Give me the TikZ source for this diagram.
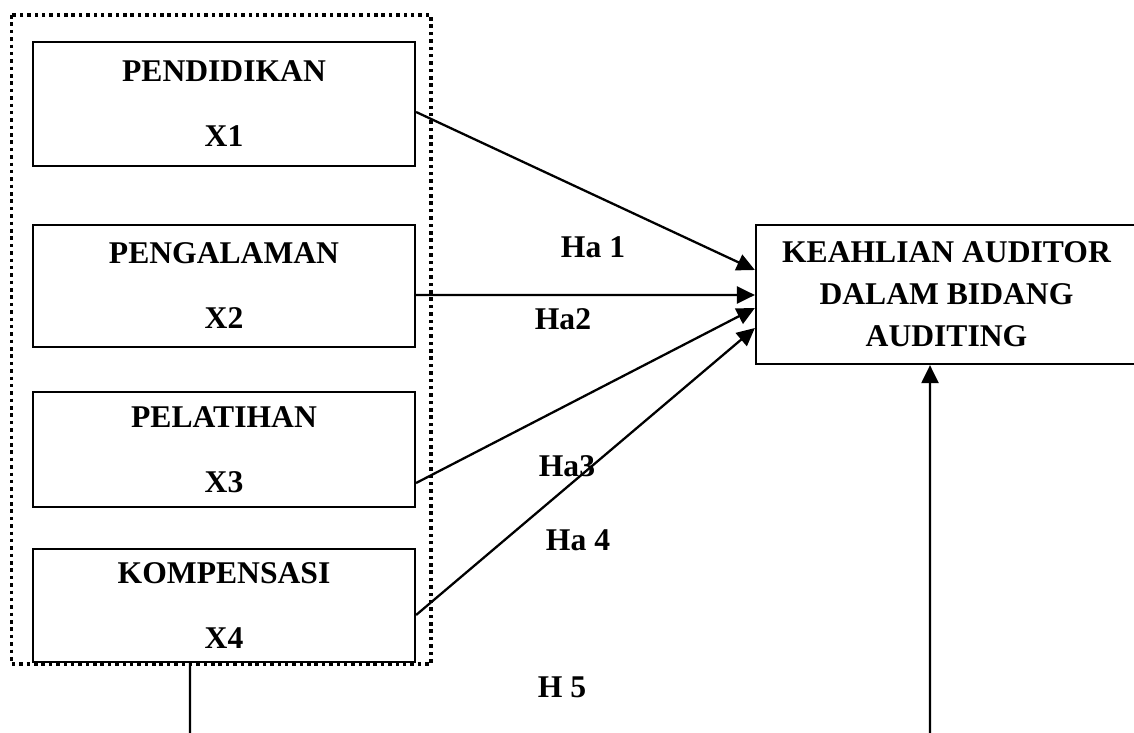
\documentclass[tikz,border=0pt]{standalone}
\usepackage{fontspec}
\setmainfont{Liberation Serif}
\usetikzlibrary{arrows.meta}

\tikzset{
	txt/.style={font=\bfseries\fontsize{18}{24}\selectfont},
	var/.style={txt, draw, line width=1.3pt, minimum width=7.64cm, inner sep=0pt, align=center},
	dep/.style={txt, draw, line width=1.3pt, minimum width=7.62cm, minimum height=2.78cm, inner sep=0pt, align=center},
	grp/.style={line width=2pt, dash pattern=on 2pt off 2.2pt},
	>={Triangle[length=0.36cm,width=0.34cm]}
}

\begin{document}
\begin{tikzpicture}[x=0.02cm, y=-0.02cm, line width=1.3pt]
	\useasboundingbox (0,0) rectangle (1134,733);
	\draw[grp] (11.5,15) rectangle (431,664);

	\node[var, minimum height=2.48cm] (x1) at (224,104) {PENDIDIKAN\\[13pt]X1};
	\node[var, minimum height=2.44cm] (x2) at (224,286) {PENGALAMAN\\[13pt]X2};
	\node[var, minimum height=2.30cm] (x3) at (224,449.5) {PELATIHAN\\[13pt]X3};
	\node[var, minimum height=2.26cm] (x4) at (224,605.5) {KOMPENSASI\\[13pt]X4};
	\node[dep] (y) at (946.5,294.5) {KEAHLIAN AUDITOR\\DALAM BIDANG\\AUDITING};

	\node[txt] (h1) at (593,247) {Ha 1};
	\node[txt] (h2) at (563,319) {Ha2};
	\node[txt] (h3) at (567,466) {Ha3};
	\node[txt] (h4) at (578,540) {Ha 4};
	\node[txt] (h5) at (562,687) {H 5};

	\coordinate (b1) at (190,760);
	\coordinate (b2) at (930,760);

	\path [->] ([yshift=-0.16cm]x1.east) edge ([yshift=0.49cm]y.west);
	\path [->] ([yshift=-0.18cm]x2.east) edge ([yshift=-0.01cm]y.west);
	\path [->] ([yshift=-0.67cm]x3.east) edge ([yshift=-0.27cm]y.west);
	\path [->] ([yshift=-0.19cm]x4.east) edge ([yshift=-0.67cm]y.west);
	\path [-] ([xshift=-0.68cm]x4.south) edge (b1);
	\path [->] (b2) edge ([xshift=-0.33cm]y.south);
\end{tikzpicture}
\end{document}
